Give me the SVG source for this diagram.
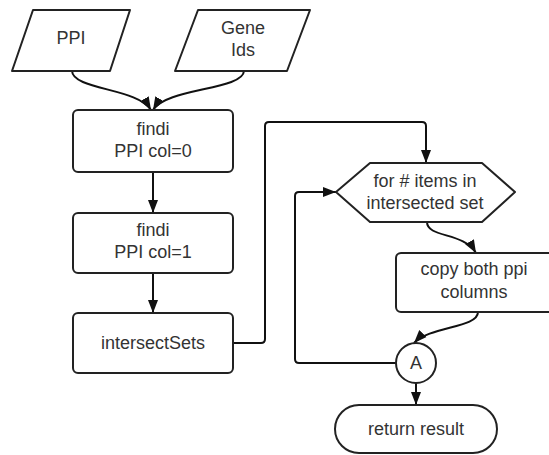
<svg xmlns="http://www.w3.org/2000/svg" width="549" height="455" viewBox="0 0 549 455">
  <defs>
    <style>
      .shape { fill: #ffffff; stroke: #222222; stroke-width: 2; stroke-linejoin: round; }
      .edge { fill: none; stroke: #111111; stroke-width: 2; }
      .label { font-family: "Liberation Sans", Arial, sans-serif; font-size: 18px; fill: #333333; text-anchor: middle; }
    </style>
    <marker id="arrow" markerUnits="userSpaceOnUse" markerWidth="14" markerHeight="12" viewBox="0 0 14 12" refX="13" refY="6" orient="auto">
      <path d="M0,1 L13,6 L0,11 Z" fill="#111111"/>
    </marker>
  </defs>

  <rect width="549" height="455" fill="#ffffff"/>

  <!-- connectors -->
  <g id="connectors">
    <path class="edge" d="M72,71 C73,90 138,88 151,110" marker-end="url(#arrow)"/>
    <path class="edge" d="M244,71 C243,90 166,88 153,110" marker-end="url(#arrow)"/>
    <path class="edge" d="M153,173 L153,213" marker-end="url(#arrow)"/>
    <path class="edge" d="M153,273 L153,313" marker-end="url(#arrow)"/>
    <path class="edge" d="M233,343 L261,343 Q265,343 265,339 L265,126 Q265,122 269,122 L422,122 Q426,122 426,126 L426,163" marker-end="url(#arrow)"/>
    <path class="edge" d="M427,222 C427,238 464,232 476,253" marker-end="url(#arrow)"/>
    <path class="edge" d="M478,312 C478,328 430,326 414,343" marker-end="url(#arrow)"/>
    <path class="edge" d="M416,383 L416,405" marker-end="url(#arrow)"/>
    <path class="edge" d="M396,363 L299,363 Q295,363 295,359 L295,196 Q295,192 299,192 L336,192" marker-end="url(#arrow)"/>
  </g>

  <!-- input: PPI -->
  <g id="ppi">
    <polygon class="shape" points="33,10 130,10 110,71 12,71"/>
    <text class="label" x="71" y="44">PPI</text>
  </g>

  <!-- input: Gene Ids -->
  <g id="gene-ids">
    <polygon class="shape" points="198,10 310,10 287,71 175,71"/>
    <text class="label" x="243" y="34">Gene</text>
    <text class="label" x="243" y="56">Ids</text>
  </g>

  <!-- process: findi col 0 -->
  <g id="findi-0">
    <rect class="shape" x="73" y="110" width="160" height="62" rx="5"/>
    <text class="label" x="153" y="135">findi</text>
    <text class="label" x="153" y="157">PPI col=0</text>
  </g>

  <!-- process: findi col 1 -->
  <g id="findi-1">
    <rect class="shape" x="73" y="213" width="160" height="60" rx="5"/>
    <text class="label" x="153" y="236">findi</text>
    <text class="label" x="153" y="258">PPI col=1</text>
  </g>

  <!-- process: intersectSets -->
  <g id="intersect-sets">
    <rect class="shape" x="73" y="313" width="160" height="60" rx="5"/>
    <text class="label" x="153" y="349">intersectSets</text>
  </g>

  <!-- loop header -->
  <g id="loop">
    <polygon class="shape" points="336,192 370,163 482,163 515,192 482,222 370,222"/>
    <text class="label" x="425" y="187">for # items in</text>
    <text class="label" x="425" y="209">intersected set</text>
  </g>

  <!-- process: copy columns -->
  <g id="copy-columns">
    <rect class="shape" x="396" y="253" width="160" height="59" rx="5"/>
    <text class="label" x="474" y="275">copy both ppi</text>
    <text class="label" x="474" y="298">columns</text>
  </g>

  <!-- connector point A -->
  <g id="connector-a">
    <circle class="shape" cx="416" cy="363" r="20"/>
    <text class="label" x="416" y="369">A</text>
  </g>

  <!-- terminator -->
  <g id="return-result">
    <rect class="shape" x="335" y="405" width="162" height="48" rx="24"/>
    <text class="label" x="416" y="435">return result</text>
  </g>
</svg>
